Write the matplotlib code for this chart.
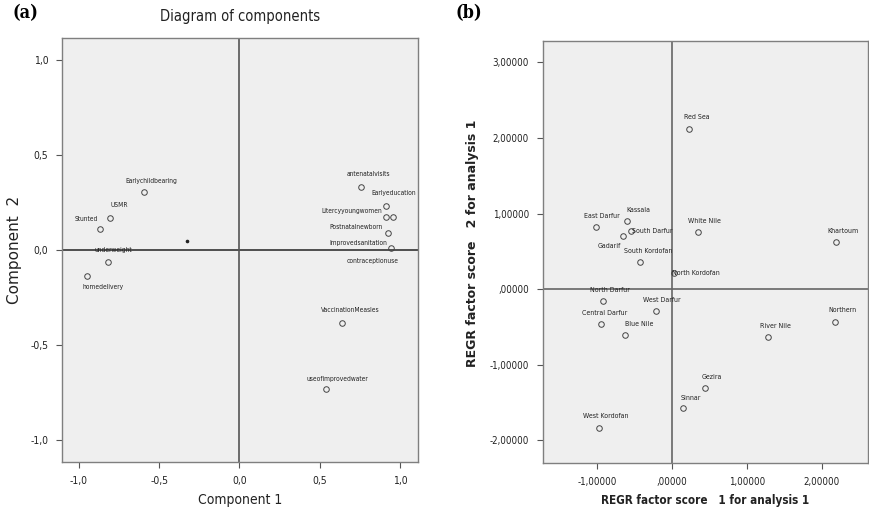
import matplotlib
matplotlib.use("Agg")
import matplotlib.pyplot as plt
from matplotlib.ticker import FuncFormatter

plt.rcParams['font.family'] = ['Liberation Sans Narrow', 'DejaVu Sans']
plt.rcParams['font.stretch'] = 'condensed'

# (a) component loadings
comp_names = ['Earlychildbearing', 'USMR', 'Stunted', 'underweight', 'homedelivery',
              'antenatalvisits', 'Earlyeducation', 'Litercyyoungwomen', 'Postnatalnewborn',
              'Improvedsanitation', 'contraceptionuse', 'VaccinationMeasles', 'useofimprovedwater']
comp1 = [-0.593, -0.807, -0.867, -0.821, -0.948,
         0.757, 0.915, 0.913, 0.927, 0.942, 0.954, 0.641, 0.539]
comp2 = [0.304, 0.170, 0.109, -0.062, -0.137,
         0.330, 0.232, 0.172, 0.091, 0.009, 0.172, -0.386, -0.732]
centre_dot = (-0.325, 0.049)

# (b) regional factor scores
regions = ['Red Sea', 'East Darfur', 'Kassala', 'South Darfur', 'Gadarif', 'South Kordofan',
           'White Nile', 'North Kordofan', 'North Darfur', 'West Darfur', 'Central Darfur',
           'Blue Nile', 'Gezira', 'Sinnar', 'West Kordofan', 'Khartoum', 'Northern', 'River Nile']
score1 = [0.232, -1.017, -0.607, -0.545, -0.652, -0.428, 0.344, 0.031, -0.928, -0.214,
          -0.946, -0.629, 0.442, 0.151, -0.977, 2.191, 2.182, 1.289]
score2 = [2.116, 0.824, 0.904, 0.771, 0.705, 0.361, 0.758, 0.216, -0.155, -0.291,
          -0.467, -0.612, -1.310, -1.570, -1.843, 0.622, -0.432, -0.639]

# label offsets in pixels (style only)
off_a = [(7, 11), (9, 13), (-14, 10), (6, 12), (16, -11),
         (7, 13), (7, 13), (-34, 6), (-32, 6), (-32, 5), (-20, -44), (8, 13), (11, 10)]
off_b = [(7, 12), (6, 11), (12, 11), (21, 0), (-14, -10), (8, 11), (7, 11), (21, 0),
         (7, 11), (6, 11), (3, 11), (14, 11), (7, 11), (7, 10), (7, 12), (7, 11), (7, 12), (7, 11)]

BG = '#efefef'
SPINE = '#7f7f7f'
TXT = '#222222'

fig = plt.figure(figsize=(8.7, 5.24), dpi=100)


def style(ax):
    ax.set_facecolor(BG)
    for s in ax.spines.values():
        s.set_color(SPINE)
        s.set_linewidth(1.0)
    ax.tick_params(direction='out', length=4, width=0.8, color='#555555',
                   labelsize=7.5, labelcolor=TXT, pad=6)


# ---- panel (a)
ax1 = fig.add_axes([0.0713, 0.1183, 0.409, 0.809])
style(ax1)
ax1.set_xlim(-1.106, 1.112)
ax1.set_ylim(-1.116, 1.116)
ax1.set_xticks([-1.0, -0.5, 0.0, 0.5, 1.0])
ax1.set_yticks([-1.0, -0.5, 0.0, 0.5, 1.0])
fmt1 = FuncFormatter(lambda v, p: ('%.1f' % v).replace('.', ','))
ax1.xaxis.set_major_formatter(fmt1)
ax1.yaxis.set_major_formatter(fmt1)
ax1.axhline(0, color='#333333', lw=1.2, zorder=1)
ax1.axvline(0, color='#555555', lw=1.2, zorder=1)
ax1.plot(comp1, comp2, 'o', mfc='none', mec='#444444', ms=4, mew=0.7, zorder=3)
ax1.plot([centre_dot[0]], [centre_dot[1]], 'o', color='#222222', ms=1.6, zorder=3)
for name, x, y, (dx, dy) in zip(comp_names, comp1, comp2, off_a):
    ax1.annotate(name, (x, y), xytext=(dx, dy), textcoords='offset pixels',
                 ha='center', va='center', fontsize=4.8, color=TXT)
ax1.set_title('Diagram of components', fontsize=10.5, color=TXT, pad=12)
ax1.set_xlabel('Component 1', fontsize=10, color=TXT, labelpad=5)
ax1.set_ylabel('Component  2', fontsize=11, color=TXT, labelpad=6,
               family='DejaVu Sans', fontstretch='normal')
fig.text(0.014, 0.965, '(a)', fontsize=13, fontweight='bold', family='DejaVu Serif')

# ---- panel (b)
ax2 = fig.add_axes([0.624, 0.1164, 0.3736, 0.805])
style(ax2)
ax2.set_xlim(-1.73, 2.62)
ax2.set_ylim(-2.30, 3.28)
ax2.set_xticks([-1, 0, 1, 2])
ax2.set_yticks([-2, -1, 0, 1, 2, 3])
fmt2 = FuncFormatter(lambda v, p: ',00000' if abs(v) < 1e-9 else ('%.5f' % v).replace('.', ','))
ax2.xaxis.set_major_formatter(fmt2)
ax2.yaxis.set_major_formatter(fmt2)
ax2.tick_params(labelsize=7)
ax2.axhline(0, color='#666666', lw=1.2, zorder=1)
ax2.axvline(0, color='#666666', lw=1.2, zorder=1)
ax2.plot(score1, score2, 'o', mfc='none', mec='#444444', ms=4, mew=0.7, zorder=3)
for name, x, y, (dx, dy) in zip(regions, score1, score2, off_b):
    ax2.annotate(name, (x, y), xytext=(dx, dy), textcoords='offset pixels',
                 ha='center', va='center', fontsize=5.0, color=TXT)
ax2.set_xlabel('REGR factor score   1 for analysis 1', fontsize=8.4, fontweight='bold',
               color=TXT, labelpad=5)
ax2.set_ylabel('REGR factor score   2 for analysis 1', fontsize=9, fontweight='bold',
               color=TXT, family='DejaVu Sans', fontstretch='normal')
ax2.yaxis.set_label_coords(-0.197, 0.52)
fig.text(0.523, 0.965, '(b)', fontsize=13, fontweight='bold', family='DejaVu Serif')

fig.savefig('out.png', dpi=100, facecolor='white')
